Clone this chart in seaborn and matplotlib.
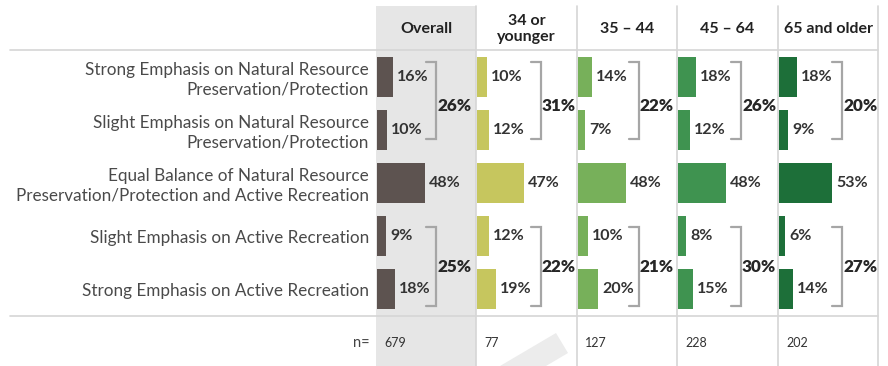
import matplotlib
matplotlib.use("Agg")
import matplotlib.pyplot as plt
import seaborn as sns
import pandas as pd
from matplotlib.patches import Rectangle, Polygon
from matplotlib.lines import Line2D

# Data
categories = [
    "Strong Emphasis on Natural Resource\nPreservation/Protection",
    "Slight Emphasis on Natural Resource\nPreservation/Protection",
    "Equal Balance of Natural Resource\nPreservation/Protection and Active Recreation",
    "Slight Emphasis on Active Recreation",
    "Strong Emphasis on Active Recreation",
]
groups = ["Overall", "34 or\nyounger", "35 – 44", "45 – 64", "65 and older"]
overall = [16, 10, 48, 9, 18]
age_34_under = [10, 12, 47, 12, 19]
age_35_44 = [14, 7, 48, 10, 20]
age_45_64 = [18, 12, 48, 8, 15]
age_65_over = [18, 9, 53, 6, 14]
preservation_totals = [26, 31, 22, 26, 20]
recreation_totals = [25, 22, 21, 30, 27]
n_counts = [679, 77, 127, 228, 202]
colors = ["#5d5350", "#c6c65e", "#77b05a", "#3f9350", "#1d6f39"]

W, H = 888, 366
panel_left = [376, 476, 577, 677, 778, 878]
bracket_x = [59, 64, 61, 63, 63]
ROW_TOP, ROW_BOT = 50, 316


def fx(px):
    return px / W


def fy(py):
    return 1 - py / H


def main():
    sns.set_style("white")
    plt.rcParams["font.family"] = ["Lato", "DejaVu Sans"]

    fig = plt.figure(figsize=(W / 100, H / 100), dpi=100)

    # gray band behind the Overall column
    fig.patches.append(Rectangle((fx(376), 0), fx(100), fy(6), transform=fig.transFigure,
                                 facecolor="#e6e6e6", edgecolor="none", zorder=-2))
    # faint watermark fragment
    fig.patches.append(Polygon([(fx(556), fy(333)), (fx(568), fy(353)), (fx(546), fy(366)),
                                (fx(500), fy(366))], closed=True, transform=fig.transFigure,
                               facecolor="#ececec", edgecolor="none", zorder=-1))

    # grid lines
    for y in (ROW_TOP, ROW_BOT):
        fig.lines.append(Line2D([fx(10), fx(878)], [fy(y), fy(y)], transform=fig.transFigure,
                                color="#d6d6d6", lw=1.2, zorder=0))
    for x in panel_left[1:]:
        fig.lines.append(Line2D([fx(x), fx(x)], [fy(6), 0], transform=fig.transFigure,
                                color="#d6d6d6", lw=1.2, zorder=0))

    series = [overall, age_34_under, age_35_44, age_45_64, age_65_over]
    for i, vals in enumerate(series):
        left = panel_left[i]
        width = panel_left[i + 1] - left
        ax = fig.add_axes([fx(left), fy(ROW_BOT), fx(width), (ROW_BOT - ROW_TOP) / H])
        ax.patch.set_alpha(0)
        df = pd.DataFrame({"category": categories, "value": vals})
        sns.barplot(data=df, x="value", y="category", order=categories, orient="h",
                    color=colors[i], saturation=1, width=0.75, linewidth=0, ax=ax)
        ax.set_xlim(-1, width - 1)
        ax.set_ylim(4.5, -0.5)
        ax.set_xlabel("")
        ax.set_ylabel("")
        ax.set_xticks([])
        for s in ax.spines.values():
            s.set_visible(False)
        if i == 0:
            ax.tick_params(axis="y", length=0, pad=5, labelsize=12.3, labelcolor="#4a4a4a")
            for t in ax.get_yticklabels():
                t.set_multialignment("right")
                t.set_linespacing(1.25)
        else:
            ax.set_yticks([])

        for j, v in enumerate(vals):
            ax.text(v + 4, j, f"{v}%", ha="left", va="center", fontsize=11.5,
                    fontweight="bold", color="#333333")

        # brackets for the combined emphasis totals
        bx = bracket_x[i]
        for (y0, y1, ty, total) in [(0 - 0.28, 1 + 0.17, 0.55, preservation_totals[i]),
                                    (3 - 0.17, 4 + 0.32, 3.58, recreation_totals[i])]:
            ax.plot([bx - 10, bx, bx, bx - 10], [y0, y0, y1, y1], color="#a6a6a6",
                    lw=1.6, clip_on=False, solid_joinstyle="miter")
            ax.text(bx + 1, ty, f"{total}%", ha="left", va="center", fontsize=12.3,
                    fontweight="heavy", color="#262626", clip_on=False)

        # header and n row
        cx = left + width / 2
        fig.text(fx(cx), fy(29), groups[i], ha="center", va="center", fontsize=11.5,
                 fontweight="bold", color="#222222", linespacing=1.2)
        fig.text(fx(left + 8), fy(343), str(n_counts[i]), ha="left", va="center",
                 fontsize=9, color="#333333")

    fig.text(fx(370), fy(343), "n=", ha="right", va="center", fontsize=10.5, color="#444444")

    fig.savefig("out.png", dpi=100)


if __name__ == "__main__":
    main()
